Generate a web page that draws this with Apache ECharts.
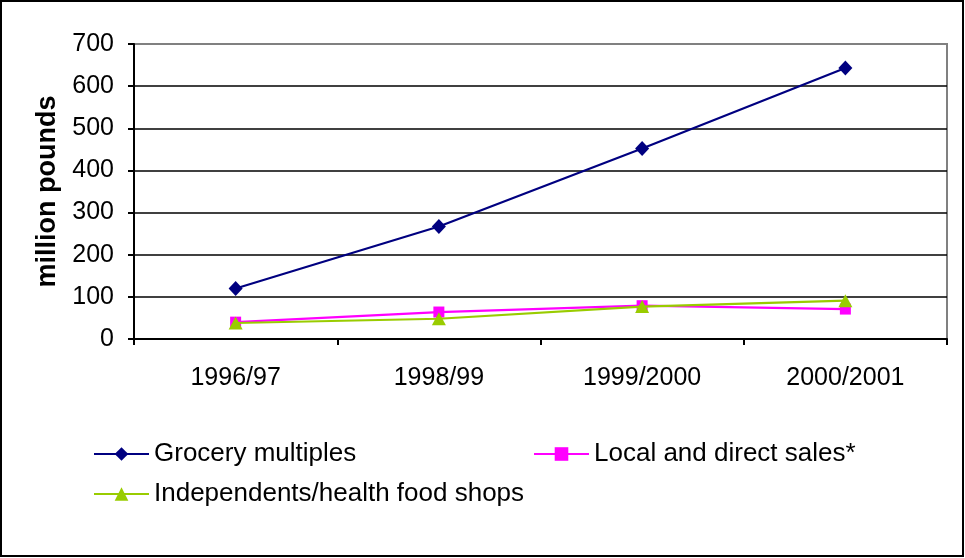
<!DOCTYPE html>
<html>
<head>
<meta charset="utf-8">
<script src="https://cdn.jsdelivr.net/npm/echarts@6/dist/echarts.min.js"></script>
<style>
html,body{margin:0;padding:0;background:#fff;}
#chart{width:965px;height:558px;}
</style>
</head>
<body>
<div id="chart"></div>
<script>
const categories = ['1996/97', '1998/99', '1999/2000', '2000/2001'];
const groceryMultiples = [120, 267, 452, 643];
const localDirectSales = [40, 64, 79, 71];
const independentsHealth = [38, 48, 77, 91];
const seriesNames = ['Grocery multiples', 'Local and direct sales*', 'Independents/health food shops'];

const FONT = '"Liberation Sans", Arial, sans-serif';
const chart = echarts.init(document.getElementById('chart'));

const legendText = { fontFamily: FONT, fontSize: 26, color: '#000' };
const legendCommon = { itemWidth: 55, itemHeight: 17, padding: 0, textStyle: legendText, lineStyle: { width: 2 } };

chart.setOption({
  animation: false,
  backgroundColor: '#fff',
  grid: {
    left: 134, right: 18, top: 44, bottom: 219,
    show: true, borderColor: '#808080', borderWidth: 2, backgroundColor: '#fff'
  },
  graphic: [{
    type: 'rect', silent: true, z: 100,
    shape: { x: 1, y: 1, width: 962, height: 555 },
    style: { fill: 'none', stroke: '#000', lineWidth: 2 }
  }],
  legend: [
    Object.assign({ data: [seriesNames[0]], left: 93, top: 441 }, legendCommon),
    Object.assign({ data: [seriesNames[1]], left: 533, top: 441 }, legendCommon),
    Object.assign({ data: [seriesNames[2]], left: 93, top: 481 }, legendCommon)
  ],
  xAxis: {
    type: 'category',
    data: categories,
    boundaryGap: true,
    axisLine: { lineStyle: { color: '#000', width: 2 } },
    axisTick: { show: true, length: 6, lineStyle: { color: '#000', width: 2 } },
    axisLabel: { fontFamily: FONT, fontSize: 25, color: '#000', margin: 27 },
    splitLine: { show: false }
  },
  yAxis: {
    type: 'value',
    min: 0, max: 700, interval: 100,
    name: 'million pounds',
    nameLocation: 'middle',
    nameRotate: 90,
    nameGap: 72,
    nameTextStyle: { fontFamily: FONT, fontSize: 27, fontWeight: 'bold', color: '#000' },
    axisLine: { show: true, lineStyle: { color: '#000', width: 2 } },
    axisTick: { show: true, length: 6, lineStyle: { color: '#000', width: 2 } },
    axisLabel: { fontFamily: FONT, fontSize: 25, color: '#000', margin: 20 },
    splitLine: { show: true, lineStyle: { color: ['#000','#000','#000','#000','#000','#000','#000','#808080'], width: 1.5 } }
  },
  series: [
    {
      name: seriesNames[0], type: 'line', data: groceryMultiples,
      symbol: 'diamond', symbolSize: [14, 15],
      lineStyle: { color: '#000080', width: 2.2 },
      itemStyle: { color: '#000080' }, z: 3
    },
    {
      name: seriesNames[1], type: 'line', data: localDirectSales,
      symbol: 'rect', symbolSize: 11,
      lineStyle: { color: '#FF00FF', width: 2.2 },
      itemStyle: { color: '#FF00FF' }, z: 2
    },
    {
      name: seriesNames[2], type: 'line', data: independentsHealth,
      symbol: 'triangle', symbolSize: [14, 13],
      lineStyle: { color: '#99CC00', width: 2.2 },
      itemStyle: { color: '#99CC00' }, z: 4
    }
  ]
});
</script>
</body>
</html>
